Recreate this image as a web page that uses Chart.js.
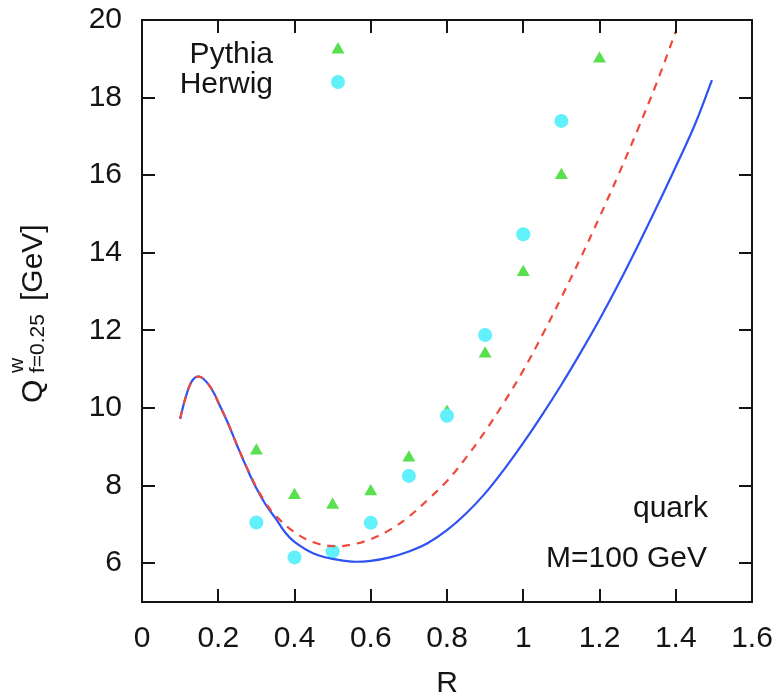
<!DOCTYPE html>
<html>
<head>
<meta charset="utf-8">
<script src="https://cdn.jsdelivr.net/npm/chart.js@4.4.1/dist/chart.umd.min.js"></script>
<style>
body{margin:0;background:#fff}
#wrap{width:782px;height:699px}
</style>
</head>
<body>
<div id="wrap"><canvas id="chart" width="782" height="699"></canvas></div>
<script>

// R grid of the two quark curves
const rCurve = [0.10,0.11,0.12,0.13,0.14,0.15,0.16,0.175,0.19,0.20,0.225,0.25,0.275,0.30,0.325,0.35,0.375,0.40,0.45,0.50,0.55,0.60,0.65,0.70,0.75,0.80,0.85,0.90,0.95,1.00,1.05,1.10,1.15,1.20,1.25,1.30,1.35,1.40,1.45,1.495]
const solidQ = [9.72,10.12,10.45,10.68,10.79,10.81,10.76,10.60,10.36,10.15,9.62,9.02,8.45,7.93,7.50,7.16,6.80,6.55,6.25,6.11,6.04,6.06,6.15,6.30,6.52,6.85,7.28,7.80,8.42,9.10,9.83,10.60,11.42,12.28,13.20,14.17,15.18,16.22,17.30,18.45]

const rDashed = [0.10,0.11,0.12,0.13,0.14,0.15,0.16,0.175,0.19,0.20,0.225,0.25,0.275,0.30,0.325,0.35,0.40,0.45,0.50,0.55,0.60,0.65,0.70,0.75,0.80,0.85,0.90,0.95,1.00,1.05,1.10,1.15,1.20,1.25,1.30,1.35,1.40]
const dashedQ = [9.72,10.12,10.45,10.68,10.79,10.81,10.76,10.60,10.36,10.15,9.62,9.03,8.47,7.96,7.55,7.23,6.80,6.54,6.44,6.48,6.62,6.86,7.20,7.64,8.12,8.72,9.40,10.15,10.97,11.88,12.85,13.86,14.92,16.02,17.17,18.38,19.70]

// shower Monte Carlo points
const rPythia = [0.3,0.4,0.5,0.6,0.7,0.8,0.9,1.0,1.1,1.2]
const pythia = [8.9,7.75,7.5,7.85,8.72,9.9,11.4,13.5,16.0,19.0]
const rHerwig = [0.3,0.4,0.5,0.6,0.7,0.8,0.9,1.0,1.1]
const herwig = [7.05,6.15,6.3,7.04,8.25,9.8,11.88,14.48,17.4]

const xTicks = [0,0.2,0.4,0.6,0.8,1,1.2,1.4,1.6]
const yTicks = [6,8,10,12,14,16,18,20]

const FONT = "'Liberation Sans', Arial, Helvetica, sans-serif"
const INK = "#141414"

function pairs(xs,ys){
return xs.map((x,i)=>({x:x,y:ys[i]}))
}

// frame with inward ticks on all four sides, plus the text labels
const framePlugin = {
id:"frame",
afterDatasetsDraw(chart){
const ctx = chart.ctx
const a = chart.chartArea
const sx = chart.scales.x
const sy = chart.scales.y
const tl = 13

ctx.save()
ctx.strokeStyle = INK
ctx.lineWidth = 2
ctx.beginPath()
xTicks.forEach(v=>{
const px = Math.round(sx.getPixelForValue(v))
ctx.moveTo(px,a.bottom); ctx.lineTo(px,a.bottom-tl)
ctx.moveTo(px,a.top); ctx.lineTo(px,a.top+tl)
})
yTicks.forEach(v=>{
const py = Math.round(sy.getPixelForValue(v))
ctx.moveTo(a.left,py); ctx.lineTo(a.left+tl,py)
ctx.moveTo(a.right,py); ctx.lineTo(a.right-tl,py)
})
ctx.stroke()
ctx.strokeRect(a.left,a.top,a.right-a.left,a.bottom-a.top)

ctx.fillStyle = INK
ctx.font = "30px " + FONT
ctx.textBaseline = "alphabetic"

// key
ctx.textAlign = "right"
ctx.fillText("Pythia",273,63)
ctx.fillText("Herwig",273,93)
ctx.fillStyle = "#58e04e"
ctx.beginPath()
ctx.moveTo(338,42); ctx.lineTo(344.5,53.5); ctx.lineTo(331.5,53.5)
ctx.closePath(); ctx.fill()
ctx.fillStyle = "#62f0fb"
ctx.beginPath()
ctx.arc(338,82,7,0,Math.PI*2)
ctx.fill()

ctx.fillStyle = INK
ctx.fillText("quark",708,517)
ctx.fillText("M=100 GeV",707,567)

// x title
ctx.textAlign = "center"
ctx.fillText("R",447,692)

// y title, rotated
ctx.translate(42,403)
ctx.rotate(-Math.PI/2)
ctx.textAlign = "left"
ctx.font = "30px " + FONT
ctx.fillText("Q",0,0)
ctx.font = "21px " + FONT
ctx.fillText("w",30,-19)
ctx.fillText("f=0.25",30,2)
ctx.font = "30px " + FONT
ctx.fillText("[GeV]",102,0)
ctx.restore()
}
}

chart = new Chart(document.getElementById("chart"),{
type:"scatter",
data:{
datasets:[
{
label:"quark dashed",
data:pairs(rDashed,dashedQ),
showLine:true,
borderColor:"#ee4a3c",
borderWidth:2.2,
borderDash:[8,7],
pointRadius:0,
tension:0.4,
order:0
},
{
label:"quark",
data:pairs(rCurve,solidQ),
showLine:true,
borderColor:"#2f52f2",
borderWidth:2.2,
pointRadius:0,
tension:0.4,
order:1
},
{
label:"Herwig",
data:pairs(rHerwig,herwig),
pointStyle:"circle",
pointRadius:7,
backgroundColor:"#62f0fb",
borderWidth:0,
order:2
},
{
label:"Pythia",
data:pairs(rPythia,pythia),
pointStyle:"triangle",
pointRadius:7.5,
backgroundColor:"#58e04e",
borderWidth:0,
order:3
}
]
},
options:{
responsive:false,
animation:false,
events:[],
layout:{padding:{left:0,right:30,top:20,bottom:0}},
plugins:{legend:{display:false},tooltip:{enabled:false}},
scales:{
x:{
type:"linear",
min:0,max:1.6,
grid:{display:false,drawTicks:false},
border:{display:false},
afterBuildTicks(s){ s.ticks = xTicks.map(v=>({value:v})) },
afterFit(s){ s.height = 97; s.paddingLeft = 0; s.paddingRight = 0 },
ticks:{
padding:19,
color:INK,
font:{family:FONT,size:30},
callback:(v)=>String(Math.round(v*10)/10)
}
},
y:{
type:"linear",
min:5,max:20,
grid:{display:false,drawTicks:false},
border:{display:false},
afterBuildTicks(s){ s.ticks = yTicks.map(v=>({value:v})) },
afterFit(s){ s.width = 142; s.paddingTop = 0; s.paddingBottom = 0 },
ticks:{
padding:20,
color:INK,
font:{family:FONT,size:30},
callback:(v)=>String(v)
}
}
}
},
plugins:[framePlugin]
})

</script>
</body>
</html>
